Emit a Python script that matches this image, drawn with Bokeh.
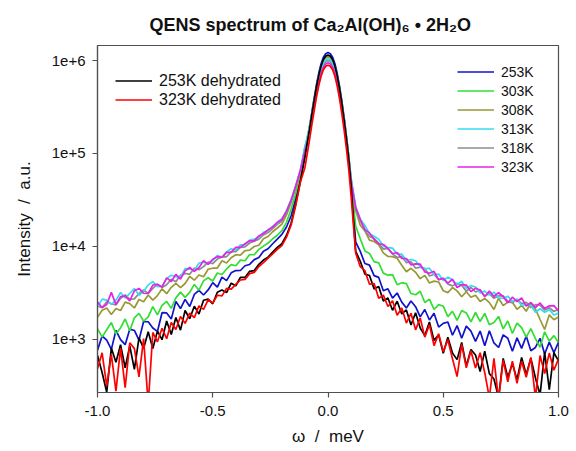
from bokeh.plotting import figure
from bokeh.models import Range1d, FixedTicker, Legend, LegendItem
from bokeh.embed import file_html
from bokeh.resources import INLINE

# energy transfer (meV)
omega = [-1.00, -0.98, -0.96, -0.94, -0.92, -0.90, -0.88, -0.86, -0.84, -0.82,
         -0.80, -0.78, -0.76, -0.74, -0.72, -0.70, -0.68, -0.66, -0.64, -0.62,
         -0.60, -0.58, -0.56, -0.54, -0.52, -0.50, -0.48, -0.46, -0.44, -0.42,
         -0.40, -0.38, -0.36, -0.34, -0.32, -0.30, -0.28, -0.26, -0.24, -0.22,
         -0.20, -0.18, -0.16, -0.14, -0.12,
         -0.10, -0.09, -0.08, -0.07, -0.06, -0.05, -0.04, -0.03, -0.02, -0.01,
         0.00, 0.01, 0.02, 0.03, 0.04, 0.05, 0.06, 0.07, 0.08, 0.09, 0.10,
         0.12, 0.14, 0.16, 0.18, 0.20, 0.22, 0.24, 0.26, 0.28, 0.30,
         0.32, 0.34, 0.36, 0.38, 0.40, 0.42, 0.44, 0.46, 0.48, 0.50,
         0.52, 0.54, 0.56, 0.58, 0.60, 0.62, 0.64, 0.66, 0.68, 0.70,
         0.72, 0.74, 0.76, 0.78, 0.80, 0.82, 0.84, 0.86, 0.88, 0.90,
         0.92, 0.94, 0.96, 0.98, 1.00]

i_253K_dehydrated = [
    674, 442, 271, 808, 568, 879, 496, 852, 476, 1040, 801, 1210, 800, 1230, 995,
    1580, 1130, 1720, 1260, 2050, 1670, 2280, 1880, 2640, 2720, 2420, 3220, 3400,
    3190, 4030, 3780, 4650, 4650, 5410, 5510, 6440, 7150, 7680, 8710, 9770, 10700,
    13200, 17800, 28800, 50100,
    91200, 129000, 182000, 263000, 372000, 519000, 692000, 871000, 1023000, 1117000,
    1148000, 1117000, 1023000, 871000, 684000, 501000, 347000, 229000, 145000, 87100, 45700,
    8910, 6940, 5050, 4870, 3500, 3710, 2590, 2790, 2060, 2580, 1880, 2080, 1430,
    1940, 1330, 1100, 1540, 978, 1120, 711, 1060, 715, 607, 927, 519, 780, 681,
    452, 748, 429, 376, 236, 626, 392, 551, 368, 641, 421, 630, 385, 253, 731, 288,
    719, 590]

i_323K_dehydrated = [
    483, 719, 316, 693, 278, 808, 304, 920, 797, 397, 1020, 200, 1190, 945, 1320,
    1020, 1520, 1280, 1770, 1490, 1920, 1720, 2300, 2110, 2670, 2470, 2990, 2940,
    3540, 3480, 3910, 4360, 4430, 5110, 5260, 6090, 6690, 7480, 8320, 9330, 10200,
    12600, 17000, 27500, 49000,
    70800, 100000, 141000, 204000, 288000, 403000, 537000, 676000, 794000, 867000,
    891000, 867000, 794000, 676000, 531000, 389000, 269000, 178000, 112000, 67600, 35500,
    8510, 6060, 5490, 3930, 3990, 2780, 3000, 2260, 2610, 1820, 2180, 1500, 1910,
    1270, 1700, 1060, 1440, 858, 1150, 740, 992, 621, 399, 884, 496, 757, 494,
    720, 439, 236, 626, 225, 598, 351, 585, 337, 583, 392, 641, 236, 671, 430, 714,
    467, 618]

i_253K = [
    766, 1090, 985, 783, 1250, 998, 880, 1290, 1250, 983, 1560, 1550, 1330, 1220,
    1940, 1930, 1660, 2570, 2150, 2700, 2260, 3050, 3380, 3010, 3410, 4090, 3660,
    4680, 4300, 5210, 5510, 5520, 6210, 6410, 7220, 7600, 8880, 9450, 10700, 12000,
    13500, 16200, 21400, 33100, 55000,
    96600, 136000, 193000, 279000, 394000, 550000, 733000, 923000, 1084000, 1183000,
    1216000, 1183000, 1084000, 923000, 724000, 531000, 367000, 243000, 153000, 92300, 48400,
    11200, 8850, 6570, 6300, 4860, 4650, 3340, 3510, 2780, 3160, 2520, 2180, 2590,
    2250, 1750, 2100, 1620, 1910, 1360, 1490, 1540, 1110, 1410, 1030, 1390, 1230,
    952, 1230, 856, 1240, 918, 820, 1120, 1030, 746, 1040, 803, 1090, 757, 820,
    1030, 697, 936, 723, 932]

i_303K = [
    1310, 1060, 1270, 1520, 1150, 1330, 1660, 1240, 1710, 1910, 1570, 1750, 2260,
    1840, 2320, 2570, 2160, 2800, 3230, 2840, 3210, 3910, 3390, 4270, 4610, 4250,
    5190, 4990, 5730, 6390, 6200, 7130, 7020, 8180, 8150, 9300, 10100, 10900, 12100,
    13200, 14800, 18200, 25100, 37200, 58900,
    107000, 141000, 191000, 263000, 367000, 507000, 676000, 851000, 1000000, 1091000,
    1122000, 1091000, 1000000, 851000, 673000, 495000, 347000, 234000, 151000, 93300, 52500,
    16600, 12100, 8960, 8420, 6870, 6660, 5170, 4910, 4980, 3880, 4080, 3990, 3120,
    3030, 3300, 2500, 2720, 2110, 2370, 2280, 1760, 2010, 1600, 2050, 1930, 1550,
    1950, 1560, 1910, 1440, 1520, 1770, 1300, 1580, 1160, 1500, 1340, 1060, 1310,
    1020, 825, 1210, 959, 1100, 928]

i_308K = [
    1730, 2060, 2180, 1860, 2150, 2050, 2520, 2430, 2180, 2690, 2550, 3010, 2650,
    2960, 3510, 3110, 3640, 4020, 3620, 4000, 4760, 4340, 4930, 4720, 5690, 5840,
    5860, 7010, 6640, 7560, 8150, 8070, 9000, 9130, 10000, 10300, 12100, 12800,
    14400, 15800, 17400, 21900, 29500, 42700, 63100,
    117000, 148000, 197000, 269000, 367000, 501000, 664000, 838000, 977000, 1067000,
    1096000, 1067000, 977000, 832000, 658000, 484000, 339000, 232000, 148000, 92300, 53700,
    24500, 16900, 14700, 11700, 11300, 10400, 8550, 7810, 7780, 7470, 6270, 5350,
    5830, 5280, 4510, 4890, 4050, 4240, 4150, 3340, 3190, 3620, 3330, 2880, 3260,
    2840, 2990, 2560, 2760, 2490, 2100, 2780, 2310, 2520, 2510, 2110, 2330, 2010,
    2480, 2120, 1640, 1280, 1840, 1630, 1740]

i_313K = [
    2240, 2720, 2650, 2380, 2650, 3200, 2790, 3130, 3530, 2990, 3300, 3860, 4190,
    3710, 3730, 4510, 4910, 4720, 4690, 5790, 5720, 5460, 6640, 6790, 6480, 7080,
    8010, 7700, 8740, 9450, 9140, 10400, 10400, 11700, 12000, 12400, 14200, 14800,
    16500, 18000, 19900, 24200, 31900, 45100, 66500,
    119000, 148000, 195000, 263000, 355000, 484000, 638000, 804000, 933000, 1019000,
    1047000, 1019000, 933000, 794000, 631000, 468000, 331000, 229000, 148000, 93300, 55000,
    27100, 19700, 16800, 13700, 12900, 12000, 10100, 9700, 9600, 8280, 8290, 7060,
    7240, 7020, 6080, 5720, 5840, 5000, 5060, 4310, 4690, 4360, 3880, 4230, 3540,
    3800, 3670, 3170, 3320, 3000, 3230, 2800, 2760, 2920, 2580, 2710, 2320, 2370,
    2320, 1960, 2140, 1960, 2090, 1830, 1920]

i_318K = [
    2290, 2190, 2540, 2420, 2350, 2770, 3010, 2720, 2730, 3120, 3400, 3130, 3550,
    3940, 3630, 3880, 4450, 4180, 4890, 5140, 5020, 5850, 5620, 6080, 6810, 6530,
    7320, 7770, 7750, 8810, 8780, 9790, 9900, 10900, 11400, 12000, 13300, 14100,
    15600, 17300, 18700, 23400, 30900, 43700, 64600,
    114000, 141000, 186000, 251000, 339000, 462000, 610000, 767000, 891000, 973000,
    1000000, 973000, 891000, 759000, 603000, 447000, 316000, 219000, 141000, 89100, 52500,
    25400, 19200, 14800, 12800, 12200, 10800, 9360, 9550, 8320, 7610, 7840, 6700,
    6850, 5840, 6000, 5810, 4810, 5030, 4380, 4560, 3940, 3770, 4020, 3820, 3290,
    3630, 3240, 3420, 2930, 3130, 2770, 2960, 2940, 2570, 2490, 2720, 2430, 2510,
    2200, 2370, 2340, 2070, 2200, 2000, 2120]

i_323K = [
    2520, 2210, 2380, 3210, 2370, 2890, 2940, 2600, 3340, 3540, 3140, 3120, 3850,
    3910, 3660, 4590, 4200, 5010, 4460, 5460, 5940, 5410, 5910, 7040, 6420, 7290,
    7780, 7620, 8650, 8640, 9800, 9800, 10700, 11500, 11500, 13000, 13800, 15100,
    16200, 18200, 19500, 24000, 31600, 44700, 66100,
    107000, 133000, 176000, 237000, 320000, 437000, 575000, 724000, 841000, 918000,
    944000, 918000, 841000, 716000, 569000, 422000, 299000, 207000, 133000, 84100, 50100,
    26300, 19500, 15200, 14000, 11900, 10700, 10500, 9520, 8360, 8620, 7440, 7430,
    6350, 6500, 6450, 5340, 5150, 5410, 4400, 4540, 4040, 4440, 3620, 3880, 3850,
    3270, 3560, 3410, 2880, 3310, 2900, 3190, 2880, 2480, 2850, 2550, 2800, 2280,
    2500, 2200, 2470, 2150, 2300, 2310, 2030]

x_ticks = [-1.0, -0.5, 0.0, 0.5, 1.0]
x_tick_labels = ["-1.0", "-0.5", "0.0", "0.5", "1.0"]
y_ticks = [1e3, 1e4, 1e5, 1e6]
y_tick_labels = ["1e+3", "1e+4", "1e+5", "1e+6"]

FONT = "Liberation Sans"
AX = "#505050"
TXT = "#111111"

p = figure(width=576, height=451, y_axis_type="log",
           x_range=Range1d(-1.0, 1.0), y_range=Range1d(269, 1.45e6),
           output_backend="svg", toolbar_location=None,
           min_border_left=97, min_border_right=18,
           min_border_top=45, min_border_bottom=59,
           background_fill_color="white", border_fill_color="white")

p.title.text = "QENS spectrum of Ca\u2082Al(OH)\u2086 \u2022 2H\u2082O"
p.title.text_font = FONT
p.title.text_font_style = "bold"
p.title.text_font_size = "18px"
p.title.text_color = TXT
p.title.align = "left"
p.title.offset = 52
p.title.vertical_align = "top"
p.title.standoff = 18

p.xgrid.visible = False
p.ygrid.visible = False
p.outline_line_color = AX
p.outline_line_width = 1.2

for ax in (p.xaxis, p.yaxis):
    ax.axis_line_color = AX
    ax.axis_line_width = 1.2
    ax.major_tick_line_color = AX
    ax.major_tick_line_width = 1.2
    ax.major_tick_out = 5
    ax.major_tick_in = 0
    ax.minor_tick_line_color = None
    ax.major_label_text_font = FONT
    ax.major_label_text_font_size = "15px"
    ax.major_label_text_color = TXT
    ax.axis_label_text_font = FONT
    ax.axis_label_text_font_style = "normal"
    ax.axis_label_text_color = TXT

p.xaxis.ticker = FixedTicker(ticks=x_ticks)
p.xaxis.major_label_overrides = {t: s for t, s in zip(x_ticks, x_tick_labels)}
p.xaxis.major_label_standoff = 8
p.xaxis.axis_label = "\u03c9 \u00a0/\u00a0 meV"
p.xaxis.axis_label_text_font_size = "17px"
p.xaxis.axis_label_standoff = 8

p.yaxis.ticker = FixedTicker(ticks=y_ticks)
p.yaxis.major_label_overrides = {t: s for t, s in zip(y_ticks, y_tick_labels)}
p.yaxis.major_label_standoff = 7
p.yaxis.axis_label = "Intensity \u00a0/\u00a0 a.u."
p.yaxis.axis_label_text_font_size = "17px"
p.yaxis.axis_label_standoff = 15

LW = 1.7
series = [
    ("253K", i_253K, "#1212CC"),
    ("303K", i_303K, "#33DD33"),
    ("308K", i_308K, "#999933"),
    ("318K", i_318K, "#8C8C8C"),
    ("313K", i_313K, "#33DDEE"),
    ("323K", i_323K, "#E622E6"),
    ("253K dehydrated", i_253K_dehydrated, "#000000"),
    ("323K dehydrated", i_323K_dehydrated, "#FF0000"),
]
rend = {}
for name, vals, col in series:
    rend[name] = p.line(omega, vals, line_color=col, line_width=LW)

leg_kw = dict(label_text_font=FONT, label_text_color=TXT,
              glyph_width=37, glyph_height=19, label_height=19, spacing=0,
              label_standoff=7, padding=0, margin=0,
              border_line_color=None, background_fill_alpha=0)

leg1 = Legend(items=[LegendItem(label="253K dehydrated", renderers=[rend["253K dehydrated"]]),
                     LegendItem(label="323K dehydrated", renderers=[rend["323K dehydrated"]])],
              location=(18, 283), label_text_font_size="16px", **leg_kw)
order = ["253K", "303K", "308K", "313K", "318K", "323K"]
leg2 = Legend(items=[LegendItem(label=n, renderers=[rend[n]]) for n in order],
              location=(360, 216), label_text_font_size="14px", **leg_kw)
p.add_layout(leg1)
p.add_layout(leg2)

open("out.html", "w").write(file_html(p, INLINE))
